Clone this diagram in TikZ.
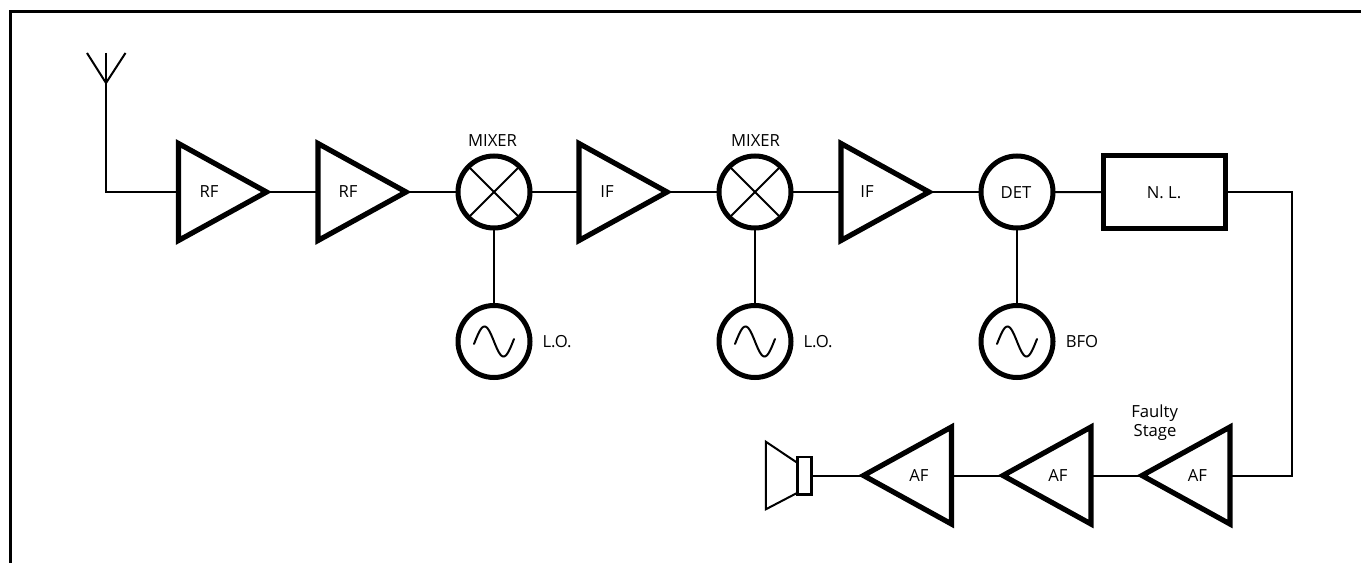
\documentclass[tikz,border=0pt]{standalone}
\usepackage{fontspec}
\setmainfont{Open Sans}
\usetikzlibrary{shapes.geometric}
\tikzset{
  x=0.75pt,y=-0.75pt,
  wire/.style={line width=1.5pt},
  thin wire/.style={line width=1.5pt},
  ampr/.style={draw,line width=3.9pt,miter limit=10,isosceles triangle,isosceles triangle apex angle=56,isosceles triangle stretches,minimum height=66pt,minimum width=72.75pt,inner sep=0pt,outer sep=0pt},
  ampl/.style={ampr,shape border rotate=180},
  disc/.style={draw,line width=3.75pt,circle,minimum size=54pt,inner sep=0pt,outer sep=0pt},
  nlbox/.style={draw,line width=3.75pt,rectangle,minimum width=91.5pt,minimum height=55pt,inner sep=0pt,outer sep=0pt},
  spk/.style={draw,line width=2pt,rectangle,minimum width=10.5pt,minimum height=28pt,inner sep=0pt,outer sep=0pt},
  lbl/.style={font=\fontsize{12.5}{14}\selectfont,inner sep=0pt,align=center},
}
\begin{document}
\begin{tikzpicture}
\useasboundingbox (0,0) rectangle (1361,563);
% frame
\draw[line width=2.25pt] (10,563) -- (10,11.3) -- (1361,11.3);
% blocks
\node[ampr,anchor=lower side] (rf1) at (178.5,192) {};
\node[ampr,anchor=lower side] (rf2) at (318,192) {};
\node[disc] (mx1) at (494,192) {};
\node[ampr,anchor=lower side] (if1) at (579,192) {};
\node[disc] (mx2) at (755,192) {};
\node[ampr,anchor=lower side] (if2) at (841,192) {};
\node[disc] (det) at (1017,192) {};
\node[nlbox] (nl) at (1164.4,192.3) {};
\node[disc] (lo1) at (494,341.5) {};
\node[disc] (lo2) at (755,341.5) {};
\node[disc] (bfo) at (1017,341.5) {};
\node[ampl,anchor=lower side] (af3) at (1230,475.5) {};
\node[ampl,anchor=lower side] (af2) at (1091,475.5) {};
\node[ampl,anchor=lower side] (af1) at (951.5,475.5) {};
\node[spk] (box) at (804.8,475.5) {};
% antenna
\coordinate (antop) at (106,53);
\coordinate (anjoin) at (106,83);
\coordinate (anl) at (87,53);
\coordinate (anr) at (125.5,53);
\coordinate (ancorner) at (106,192);
\coordinate (nlcorner) at (1291.7,192);
\coordinate (afcorner) at (1291.7,475.5);
\draw[wire] (antop) -- (ancorner) -- (rf1.lower side);
\draw[wire] (anl) -- (anjoin) -- (anr);
% connectors
\draw[wire] (rf1.apex) -- (rf2.lower side);
\draw[wire] (rf2.apex) -- (mx1);
\draw[wire] (mx1) -- (if1.lower side);
\draw[wire] (if1.apex) -- (mx2);
\draw[wire] (mx2) -- (if2.lower side);
\draw[wire] (if2.apex) -- (det);
\draw[wire] (det) -- (nl);
\draw[wire] (nl.east |- nlcorner) -- (nlcorner) -- (afcorner) -- (af3.lower side);
\draw[wire] (af3.apex) -- (af2.lower side);
\draw[wire] (af2.apex) -- (af1.lower side);
\draw[wire] (af1.apex) -- (box);
\draw[wire] (mx1) -- (lo1);
\draw[wire] (mx2) -- (lo2);
\draw[wire] (det) -- (bfo);
% mixer crosses
\foreach \m in {mx1,mx2}{
  \draw[thin wire] (\m.45) -- (\m.225);
  \draw[thin wire] (\m.135) -- (\m.315);
}
% sine waves
\foreach \m in {lo1,lo2,bfo}{
  \draw[thin wire,shift={(\m)},line cap=round] plot[domain=-20:20,samples=50,smooth] (\x,{15*sin(\x*9.47)});
}
% speaker cone
\coordinate (cone1) at (797.6,463);
\coordinate (cone2) at (765.8,441.7);
\coordinate (cone3) at (765.8,509.3);
\coordinate (cone4) at (797.6,492.7);
\draw[wire,line join=miter] (cone1) -- (cone2) -- (cone3) -- (cone4);
% labels
\node[lbl] (t1) at (209,192) {RF};
\node[lbl] (t2) at (348,192) {RF};
\node[lbl] (t3) at (492.5,140.5) {MIXER};
\node[lbl] (t4) at (607,192) {IF};
\node[lbl] (t5) at (755.5,140.5) {MIXER};
\node[lbl] (t6) at (867,192) {IF};
\node[lbl] (t7) at (1016,192.5) {DET};
\node[lbl] (t8) at (1164,193) {N. L.};
\node[lbl] (t9) at (557,341.5) {L.O.};
\node[lbl] (t10) at (818,341.5) {L.O.};
\node[lbl] (t11) at (1082,341.5) {BFO};
\node[lbl] (t12) at (919,475.5) {AF};
\node[lbl] (t13) at (1058,475.5) {AF};
\node[lbl] (t14) at (1197.5,475.5) {AF};
\node[lbl] (t15) at (1154.6,412.7) {Faulty};
\node[lbl] (t16) at (1155,432.7) {Stage};
\end{tikzpicture}
\end{document}
